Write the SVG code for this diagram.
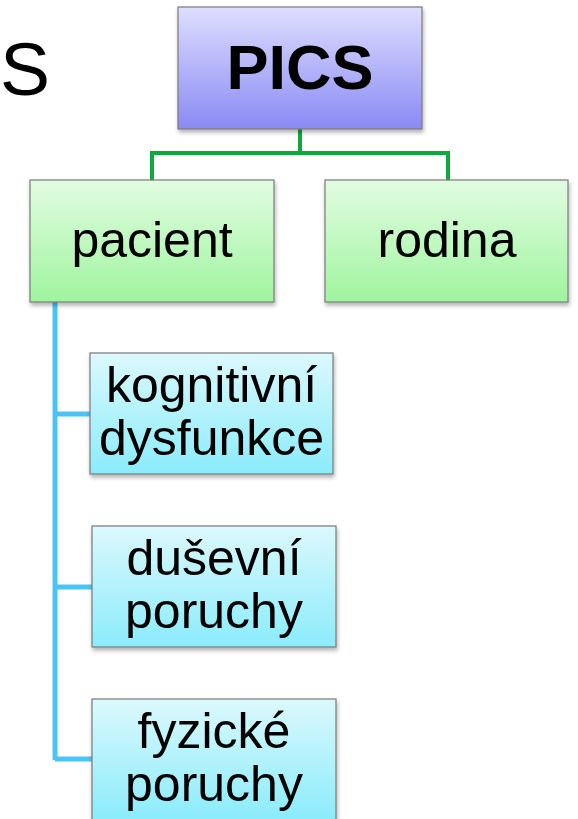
<svg xmlns="http://www.w3.org/2000/svg" width="578" height="819" viewBox="0 0 578 819">
  <style>
    .lbl { font-family: "Liberation Sans", Arial, sans-serif; font-size: 50px; fill: #000; text-anchor: middle; }
    .title { font-size: 63px; font-weight: bold; }
    .box { stroke: #7a7a7a; stroke-width: 1.2; filter: url(#shadow); }
    .green-link { fill: none; stroke: #10a83a; stroke-width: 4; }
    .blue-link { fill: none; stroke: #4cc3f5; stroke-width: 5; }
  </style>
  <defs>
    <linearGradient id="gBlue" x1="0" y1="0" x2="0" y2="1">
      <stop offset="0" stop-color="#dedefe"/>
      <stop offset="1" stop-color="#8a8af6"/>
    </linearGradient>
    <linearGradient id="gGreen" x1="0" y1="0" x2="0" y2="1">
      <stop offset="0" stop-color="#e2fce2"/>
      <stop offset="1" stop-color="#9ff59f"/>
    </linearGradient>
    <linearGradient id="gCyan" x1="0" y1="0" x2="0" y2="1">
      <stop offset="0" stop-color="#dbf9fd"/>
      <stop offset="1" stop-color="#8aecfb"/>
    </linearGradient>
    <filter id="shadow" x="-10%" y="-10%" width="120%" height="130%">
      <feDropShadow dx="1" dy="3" stdDeviation="2" flood-color="#000" flood-opacity="0.3"/>
    </filter>
  </defs>

  <rect width="578" height="819" fill="#fff"/>

  <!-- title fragment at the left edge -->
  <text x="0" y="95" font-family="Liberation Sans, Arial, sans-serif" font-size="75" fill="#000">S</text>

  <!-- connectors -->
  <g id="connectors">
    <path class="green-link" d="M300 129 V153 M152 153 H448 M152 151 V180 M448 151 V180"/>
    <path class="blue-link" d="M55 302 V760 M55 414 H90 M55 587 H92 M55 759 H92"/>
  </g>

  <g id="node-pics">
    <rect class="box" x="178" y="7" width="244" height="122" fill="url(#gBlue)"/>
    <text class="lbl title" x="300" y="89">PICS</text>
  </g>

  <g id="node-pacient">
    <rect class="box" x="30" y="180" width="244" height="122" fill="url(#gGreen)"/>
    <text class="lbl" x="152" y="257">pacient</text>
  </g>

  <g id="node-rodina">
    <rect class="box" x="325" y="180" width="243" height="122" fill="url(#gGreen)"/>
    <text class="lbl" x="447" y="257">rodina</text>
  </g>

  <g id="node-kognitivni">
    <rect class="box" x="90" y="353" width="243" height="121" fill="url(#gCyan)"/>
    <text class="lbl" x="211.5" y="402">kognitivní</text>
    <text class="lbl" x="211.5" y="455">dysfunkce</text>
  </g>

  <g id="node-dusevni">
    <rect class="box" x="92" y="526" width="244" height="121" fill="url(#gCyan)"/>
    <text class="lbl" x="214" y="575">duševní</text>
    <text class="lbl" x="214" y="628">poruchy</text>
  </g>

  <g id="node-fyzicke">
    <rect class="box" x="92" y="699" width="244" height="121" fill="url(#gCyan)"/>
    <text class="lbl" x="214" y="748">fyzické</text>
    <text class="lbl" x="214" y="801">poruchy</text>
  </g>
</svg>
